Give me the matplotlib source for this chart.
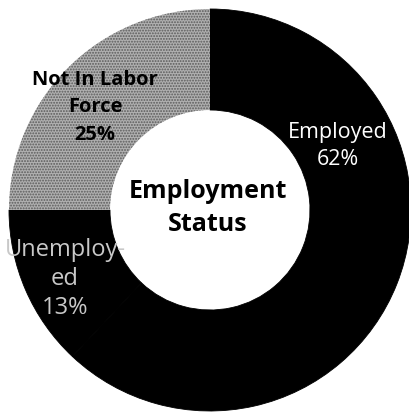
import matplotlib
matplotlib.use("Agg")
import matplotlib.pyplot as plt

# ── Data ──────────────────────────────────────────────────────────────────────
categories = ["Employed", "Unemployed", "Not In Labor Force"]
shares     = [62, 13, 25]
# wrapped labels as they appear inside the ring
ring_labels = ["Employed", "Unemploy-\ned", "Not In Labor\nForce"]
center_title = "Employment\nStatus"
# ─────────────────────────────────────────────────────────────────────────────

W, H = 409, 412
CX, CY = 210, 202          # ring centre in pixel units (y up)
R_OUT, R_W = 201, 101

plt.rcParams["font.family"] = ["Open Sans", "DejaVu Sans"]
plt.rcParams["hatch.linewidth"] = 0.9

fig = plt.figure(figsize=(W / 100, H / 100), dpi=100)
ax = fig.add_axes([0, 0, 1, 1])

colors = ["#000000", "#000000", "#b0b0b0"]
wedges, _ = ax.pie(
    shares,
    colors=colors,
    startangle=90,
    counterclock=False,
    center=(CX, CY),
    radius=R_OUT,
    wedgeprops=dict(width=R_W, edgecolor="black", linewidth=0.6),
)
# stippled grey for the "not in labor force" slice
wedges[2].set_hatch("......")
wedges[2].set_edgecolor("#5a5a5a")
wedges[2].set_linewidth(0)

ax.set_xlim(0, W)
ax.set_ylim(0, H)
ax.set_aspect("equal")
ax.axis("off")

# slice labels
text_style = [
    dict(x=338, y=266, color="white", fontsize=15.5, fontweight="normal", ls=1.35),
    dict(x=65, y=133, color="#c8c8c8", fontsize=17, fontweight="normal", ls=1.25),
    dict(x=95, y=305, color="black", fontsize=14.5, fontweight="bold", ls=1.5),
]
for lab, val, st in zip(ring_labels, shares, text_style):
    ax.text(st["x"], st["y"], f"{lab}\n{val}%", ha="center", va="center",
            color=st["color"], fontsize=st["fontsize"], fontweight=st["fontweight"],
            linespacing=st["ls"])

ax.text(CX - 2, H - 208, center_title, ha="center", va="center",
        fontsize=18, fontweight="bold", color="black", linespacing=1.45)

fig.savefig("out.png", dpi=100)
